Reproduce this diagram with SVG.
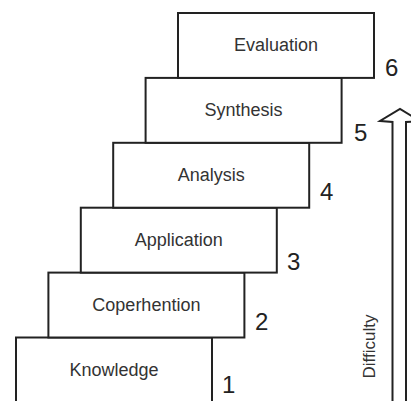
<svg xmlns="http://www.w3.org/2000/svg" width="411" height="401" viewBox="0 0 411 401">
<style>
.box{fill:#fff;stroke:#222;stroke-width:2}
.lbl{font-family:"Liberation Sans",Arial,sans-serif;font-size:18px;fill:#333;text-anchor:middle}
.num{font-family:"Liberation Sans",Arial,sans-serif;font-size:24px;fill:#222}
.arrow{fill:#fff;stroke:#222;stroke-width:2;stroke-linejoin:miter}
</style>
<rect width="411" height="401" fill="#fff"/>
<g id="knowledge"><rect class="box" x="16" y="337.5" width="196" height="70"/><text class="lbl" x="114" y="376">Knowledge</text><text class="num" x="222" y="393">1</text></g>
<g id="coperhention"><rect class="box" x="48.4" y="272.6" width="196" height="64.9"/><text class="lbl" x="146.4" y="311">Coperhention</text><text class="num" x="255" y="330">2</text></g>
<g id="application"><rect class="box" x="80.8" y="207.7" width="196" height="64.9"/><text class="lbl" x="178.8" y="246">Application</text><text class="num" x="287" y="270">3</text></g>
<g id="analysis"><rect class="box" x="113.2" y="142.8" width="196" height="64.9"/><text class="lbl" x="211.2" y="181">Analysis</text><text class="num" x="320" y="200">4</text></g>
<g id="synthesis"><rect class="box" x="145.6" y="77.9" width="196" height="64.9"/><text class="lbl" x="243.6" y="116">Synthesis</text><text class="num" x="354" y="141">5</text></g>
<g id="evaluation"><rect class="box" x="178" y="13" width="196" height="64.9"/><text class="lbl" x="276" y="51">Evaluation</text><text class="num" x="385" y="76">6</text></g>
<g id="connectors">
<polygon class="arrow" points="392.5,410 392.5,122 380,121 400,109 420,121 406,122 406,410"/>
<text class="lbl" style="font-size:17px" transform="translate(375,346.5) rotate(-90)">Difficulty</text>
</g>
</svg>
